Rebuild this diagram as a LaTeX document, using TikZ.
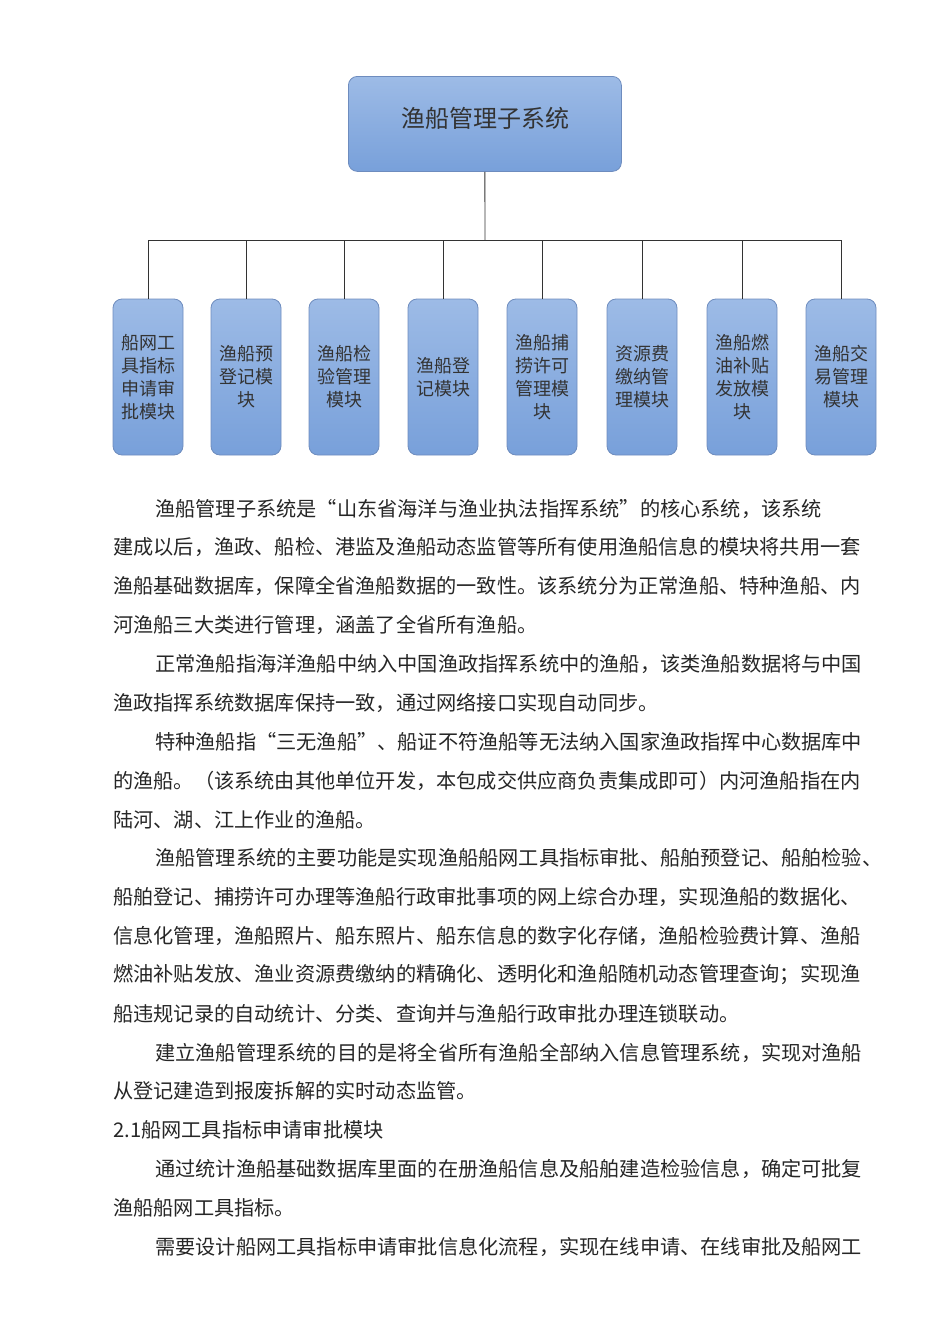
\documentclass[tikz,border=0pt]{standalone}
\usepackage{fontspec}
\setmainfont{Noto Sans CJK SC}
\begin{document}
\begin{tikzpicture}[x=1pt,y=-1pt,
  box/.style={line width=0.8pt, rounded corners=9pt, top color={rgb,255:red,157;green,187;blue,230}, bottom color={rgb,255:red,120;green,160;blue,218}, draw={rgb,255:red,110;green,140;blue,190}, text=black!80, align=center},
  mod/.style={box, minimum width=70pt, minimum height=156pt, inner sep=1pt, font=\fontsize{18}{23}\selectfont, text width=64pt},
  ln/.style={anchor=west, inner sep=0pt, font=\fontsize{20.2}{24}\selectfont, text=black!85},
  conn/.style={draw=black!80, line width=0.9pt}]
\useasboundingbox (0,0) rectangle (950,1344);
\node[box, minimum width=273pt, minimum height=95pt, anchor=north west] (top) at (348,76) {};
\node[font=\fontsize{24}{28}\selectfont, text=black!80] (title) at (485,118) {渔船管理子系统};
\coordinate (bar) at (485,240);
\foreach \x/\n/\t in {148/m1/船网工\\具指标\\申请审\\批模块, 246/m2/渔船预\\登记模\\块, 344/m3/渔船检\\验管理\\模块, 443/m4/渔船登\\记模块, 542/m5/渔船捕\\捞许可\\管理模\\块, 642/m6/资源费\\缴纳管\\理模块, 742/m7/渔船燃\\油补贴\\发放模\\块, 841/m8/渔船交\\易管理\\模块}{
  \node[mod] (\n) at (\x,377) {\t};
  \draw[conn] (\n.north) -- (\n.north |- bar);
}
\draw[conn] (top.south) -- (bar);
\draw[conn] (m1.north |- bar) -- (m8.north |- bar);
\foreach \y/\x/\t in {
509/155/渔船管理子系统是“山东省海洋与渔业执法指挥系统”的核心系统，该系统,
547/113/建成以后，渔政、船检、港监及渔船动态监管等所有使用渔船信息的模块将共用一套,
586/113/渔船基础数据库，保障全省渔船数据的一致性。该系统分为正常渔船、特种渔船、内,
625/113/河渔船三大类进行管理，涵盖了全省所有渔船。,
664/155/正常渔船指海洋渔船中纳入中国渔政指挥系统中的渔船，该类渔船数据将与中国,
703/113/渔政指挥系统数据库保持一致，通过网络接口实现自动同步。,
742/155/特种渔船指“三无渔船”、船证不符渔船等无法纳入国家渔政指挥中心数据库中,
781/113/的渔船。（该系统由其他单位开发，本包成交供应商负责集成即可）内河渔船指在内,
820/113/陆河、湖、江上作业的渔船。,
858/155/渔船管理系统的主要功能是实现渔船船网工具指标审批、船舶预登记、船舶检验、,
897/113/船舶登记、捕捞许可办理等渔船行政审批事项的网上综合办理，实现渔船的数据化、,
936/113/信息化管理，渔船照片、船东照片、船东信息的数字化存储，渔船检验费计算、渔船,
975/113/燃油补贴发放、渔业资源费缴纳的精确化、透明化和渔船随机动态管理查询；实现渔,
1014/113/船违规记录的自动统计、分类、查询并与渔船行政审批办理连锁联动。,
1053/155/建立渔船管理系统的目的是将全省所有渔船全部纳入信息管理系统，实现对渔船,
1091/113/从登记建造到报废拆解的实时动态监管。,
1130/113/2.1船网工具指标申请审批模块,
1169/155/通过统计渔船基础数据库里面的在册渔船信息及船舶建造检验信息，确定可批复,
1208/113/渔船船网工具指标。,
1247/155/需要设计船网工具指标申请审批信息化流程，实现在线申请、在线审批及船网工}{
  \node[ln] (l\y) at (\x,\y) {\t};
}
\end{tikzpicture}
\end{document}
